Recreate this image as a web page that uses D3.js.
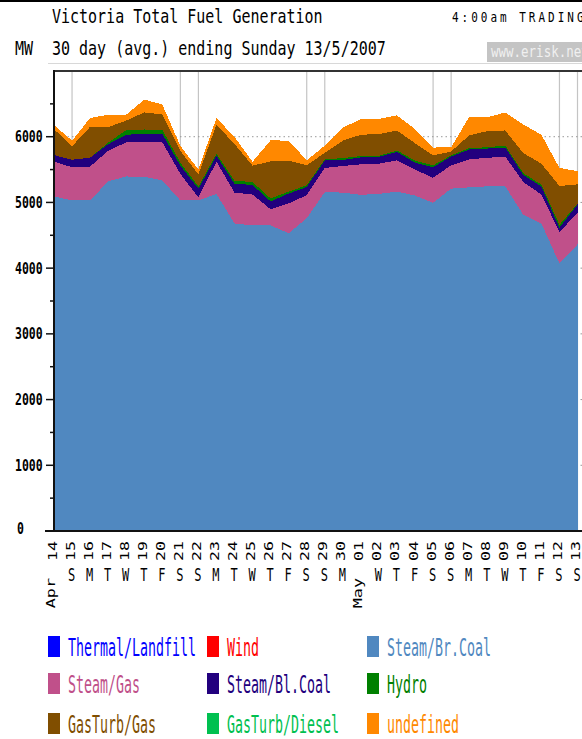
<!DOCTYPE html>
<html>
<head>
<meta charset="utf-8">
<script src="https://cdn.jsdelivr.net/npm/d3@7"></script>
<style>
body { margin: 0; background: #fff; overflow: hidden; }
svg { display: block; }
text { font-family: "DejaVu Sans Mono", "Liberation Mono", monospace; }
</style>
</head>
<body>
<svg id="chart" width="582" height="739"></svg>
<script>
//------------------------------ data ------------------------------//
// 30 days, Sat 14 Apr 2007 .. Sun 13 May 2007
var dayNums = ["14","15","16","17","18","19","20","21","22","23","24","25","26","27","28","29","30",
               "01","02","03","04","05","06","07","08","09","10","11","12","13"];
var weekDays = ["","S","M","T","W","T","F","S","S","M","T","W","T","F","S","S","M",
                "","W","T","F","S","S","M","T","W","T","F","S","S"];
var monthLabels = {0: "Apr", 17: "May"};

// MW, daily average, bottom of the stack first
var steamBrCoal = [5090,5030,5030,5320,5395,5390,5335,5030,5030,5130,4680,4650,4650,4530,4760,
                   5155,5150,5115,5130,5165,5105,4995,5210,5230,5245,5245,4810,4680,4070,4360];
var steamGas    = [530,505,515,465,520,530,580,405,45,490,470,470,245,455,350,
                   370,405,465,460,475,395,380,355,425,435,450,500,440,480,480];
var steamBlCoal = [100,115,135,100,115,125,130,125,135,90,135,145,120,150,125,
                   115,90,105,105,130,105,160,135,150,140,140,110,120,65,130];
var hydro       = [0,0,0,25,70,65,60,45,30,30,45,45,45,30,25,
                   15,30,20,15,20,30,30,15,20,20,30,25,30,45,10];
var gasTurbGas  = [395,205,470,235,145,260,235,180,185,440,560,250,565,470,305,
                   100,265,325,330,305,265,150,60,195,245,230,305,320,590,295];
var undefinedGen = [60,85,135,190,90,195,150,75,75,105,105,60,320,305,75,
                    110,200,235,230,230,215,120,65,280,210,275,435,440,275,200];

var yMajor = [0,1000,2000,3000,4000,5000,6000];
var yMinor = [500,1500,2500,3500,4500,5500,6500];

// legend, row by row
var legendItems = [
    {name: "Thermal/Landfill", color: "#0000ff"},
    {name: "Wind",             color: "#ff0000"},
    {name: "Steam/Br.Coal",    color: "#5088c0"},
    {name: "Steam/Gas",        color: "#c0508a"},
    {name: "Steam/Bl.Coal",    color: "#22007e"},
    {name: "Hydro",            color: "#008000"},
    {name: "GasTurb/Gas",      color: "#804e00"},
    {name: "GasTurb/Diesel",   color: "#00c050"},
    {name: "undefined",        color: "#ff8800"}
];
var colorOf = {};
legendItems.forEach(function(d) { colorOf[d.name] = d.color; });

//------------------------------ build ------------------------------//
var startDate = new Date(2007, 3, 14);
var rows = dayNums.map(function(n, i) {
    return {
        date: d3.timeDay.offset(startDate, i),
        "Steam/Br.Coal": steamBrCoal[i],
        "Steam/Gas": steamGas[i],
        "Steam/Bl.Coal": steamBlCoal[i],
        "Hydro": hydro[i],
        "GasTurb/Gas": gasTurbGas[i],
        "undefined": undefinedGen[i]
    };
});
var keys = ["Steam/Br.Coal","Steam/Gas","Steam/Bl.Coal","Hydro","GasTurb/Gas","undefined"];

var svg = d3.select("#chart");
// plot box (don't call these top/left: window.top is taken)
var pLeft = 54, pRight = 582, pTop = 71, pBottom = 531;

var x = d3.scaleTime()
    .domain([startDate, d3.timeDay.offset(startDate, 29)])
    .range([pLeft, 577.5]);
var y = d3.scaleLinear().domain([0, 7000]).range([pBottom, pTop]);

// text helper: pixel font look, stretched vertically
function stext(g, px, py, str, size, sy, color, anchor) {
    return g.append("text")
        .attr("transform", "translate(" + px + "," + py + ") scale(1," + sy + ")")
        .attr("font-size", size)
        .attr("fill", color || "#000")
        .attr("text-anchor", anchor || "start")
        .text(str);
}

//----- header
svg.append("rect").attr("x", 0).attr("y", 0).attr("width", 582).attr("height", 2).attr("fill", "#000");
stext(svg, 52, 23, "Victoria Total Fuel Generation", 15, 1.3, "#000");
stext(svg, 15, 55, "MW", 15, 1.3, "#000");
stext(svg, 52, 55, "30 day (avg.) ending Sunday 13/5/2007", 15, 1.3, "#000");
stext(svg, 452, 22, "4:00am TRADING", 11, 1.2, "#000").attr("letter-spacing", 3);
svg.append("rect").attr("x", 487).attr("y", 42).attr("width", 95).attr("height", 20).attr("fill", "#c4c4c4");
stext(svg, 491, 57, "www.erisk.net", 12.5, 1.2, "#f0f0f0");
svg.append("line").attr("x1", 48).attr("x2", 582).attr("y1", 63.5).attr("y2", 63.5)
    .attr("stroke", "#d8d8d8");

//----- grid
var weekendIdx = d3.range(1, dayNums.length).filter(function(i) { return weekDays[i] == "S"; });
svg.append("g").selectAll("line")
    .data(weekendIdx)
    .enter().append("line")
    .attr("x1", function(i) { return x(rows[i].date); })
    .attr("x2", function(i) { return x(rows[i].date); })
    .attr("y1", pTop).attr("y2", pBottom)
    .attr("stroke", "#c4c4c4").attr("stroke-width", 1.2);

svg.append("g").selectAll("line")
    .data(yMajor.slice(1))
    .enter().append("line")
    .attr("x1", pLeft).attr("x2", pRight)
    .attr("y1", function(d) { return y(d); }).attr("y2", function(d) { return y(d); })
    .attr("stroke", "#999").attr("stroke-dasharray", "1.5,3");

//----- stacked areas
var series = d3.stack().keys(keys)(rows);
var area = d3.area()
    .x(function(d) { return x(d.data.date); })
    .y0(function(d) { return y(d[0]); })
    .y1(function(d) { return y(d[1]); })
    .curve(d3.curveLinear);

svg.append("g").selectAll("path")
    .data(series)
    .enter().append("path")
    .attr("d", area)
    .attr("fill", function(s) { return colorOf[s.key]; })
    .attr("shape-rendering", "crispEdges");

//----- frame + y axis
svg.append("line").attr("x1", pLeft).attr("x2", pRight).attr("y1", pTop).attr("y2", pTop)
    .attr("stroke", "#333").attr("stroke-width", 2);
svg.append("line").attr("x1", pLeft).attr("x2", pLeft).attr("y1", pTop - 1).attr("y2", pBottom + 1)
    .attr("stroke", "#111").attr("stroke-width", 2);
svg.append("line").attr("x1", 45).attr("x2", pRight).attr("y1", pBottom).attr("y2", pBottom)
    .attr("stroke", "#111").attr("stroke-width", 2);

var yAxis = svg.append("g");
yAxis.selectAll("line.major")
    .data(yMajor)
    .enter().append("line")
    .attr("x1", 46).attr("x2", pLeft)
    .attr("y1", function(d) { return y(d); }).attr("y2", function(d) { return y(d); })
    .attr("stroke", "#111").attr("stroke-width", 1.5);
yAxis.selectAll("line.minor")
    .data(yMinor)
    .enter().append("line")
    .attr("x1", 50).attr("x2", pLeft)
    .attr("y1", function(d) { return y(d); }).attr("y2", function(d) { return y(d); })
    .attr("stroke", "#111").attr("stroke-width", 1.5);
yMajor.forEach(function(v) {
    stext(yAxis, v == 0 ? 17 : 15, y(v) + (v == 0 ? 3 : 5.5), String(v), 11.5, 1.45, "#000")
        .attr("font-weight", "bold");
});

//----- x axis labels
var xAxis = svg.append("g");
dayNums.forEach(function(n, i) {
    var px = x(rows[i].date);
    xAxis.append("text")
        .attr("transform", "translate(" + (px + 2.5) + ",541) rotate(-90) scale(1.38,1)")
        .attr("font-size", 12)
        .attr("text-anchor", "end")
        .text(n);
    if (weekDays[i]) {
        stext(xAxis, px - 0.5, 581, weekDays[i], 12, 1.45, "#000", "middle");
    }
    if (monthLabels[i]) {
        xAxis.append("text")
            .attr("transform", "translate(" + (px + 1) + ",578) rotate(-90) scale(1.4,1)")
            .attr("font-size", 12)
            .attr("text-anchor", "end")
            .text(monthLabels[i]);
    }
});

//----- legend
var legend = svg.append("g");
var colX = [48, 207, 367], rowY = [636, 673, 713];
legendItems.forEach(function(d, i) {
    var cx = colX[i % 3], cy = rowY[Math.floor(i / 3)];
    legend.append("rect").attr("x", cx).attr("y", cy).attr("width", 12).attr("height", 21)
        .attr("fill", d.color);
    stext(legend, cx + 20, cy + 20, d.name, 13.3, 1.8, d.color);
});
</script>
</body>
</html>
